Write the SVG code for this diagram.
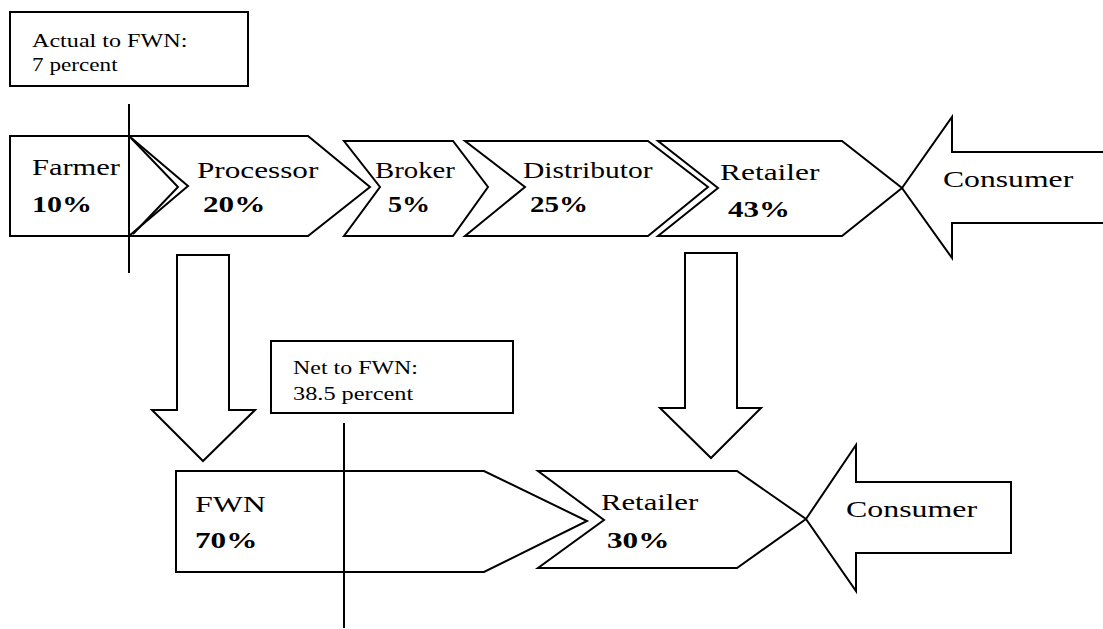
<svg xmlns="http://www.w3.org/2000/svg" width="1103" height="629" viewBox="0 0 1103 629">
<style>
.s{fill:#fff;stroke:#000;stroke-width:2;stroke-linejoin:miter}
.l{fill:none;stroke:#000;stroke-width:2}
.t{font-family:"Liberation Serif","Times New Roman",serif;font-size:24px;fill:#000}
.b{font-weight:bold}
.n{font-family:"Liberation Serif","Times New Roman",serif;font-size:19px;fill:#000}
</style>
<rect width="1103" height="629" fill="#fff"/>
<g id="note-actual">
<rect class="s" x="10" y="12" width="238" height="74"/>
<text class="n" transform="translate(32,47) scale(1.27,1)">Actual to FWN:</text>
<text class="n" transform="translate(32,71) scale(1.22,1)">7 percent</text>
</g>
<g id="consumer-top">
<polygon class="s" points="902,188 952,117 952,152 1110,152 1110,223 952,223 952,258"/>
<text class="t" transform="translate(943,187) scale(1.32,1)">Consumer</text>
</g>
<g id="farmer">
<rect class="s" x="10" y="136" width="119" height="100"/>
<text class="t" transform="translate(32,175) scale(1.27,1)">Farmer</text>
<text class="t b" transform="translate(32,212) scale(1.25,1)">10%</text>
</g>
<g id="processor">
<polygon class="s" points="129,136 308,136 370,187 308,236 129,236 188,186"/>
<polyline class="l" points="131,138 178,187 133,234"/>
<text class="t" transform="translate(197,178) scale(1.3,1)">Processor</text>
<text class="t b" transform="translate(203,212) scale(1.3,1)">20%</text>
</g>
<g id="broker">
<polygon class="s" points="344,141 453,141 488,187 453,236 344,236 380,187"/>
<text class="t" transform="translate(375,178) scale(1.2,1)">Broker</text>
<text class="t b" transform="translate(388,212) scale(1.17,1)">5%</text>
</g>
<g id="distributor">
<polygon class="s" points="465,141 648,141 708,187 648,236 465,236 525,187"/>
<text class="t" transform="translate(523,178) scale(1.23,1)">Distributor</text>
<text class="t b" transform="translate(530,212) scale(1.21,1)">25%</text>
</g>
<g id="retailer-top">
<polygon class="s" points="658,141 842,141 902,188 842,236 658,236 718,188"/>
<text class="t" transform="translate(720,180) scale(1.31,1)">Retailer</text>
<text class="t b" transform="translate(728,217) scale(1.29,1)">43%</text>
</g>
<g id="connectors">
<line class="l" x1="129" y1="104" x2="129" y2="273"/>
<polygon class="s" points="177,255 229,255 229,410 255,410 203,461 152,410 177,410"/>
<polygon class="s" points="685,253 737,253 737,408 761,408 711,458 660,408 685,408"/>
</g>
<g id="note-net">
<rect class="s" x="271" y="341" width="242" height="72"/>
<text class="n" transform="translate(293,374) scale(1.26,1)">Net to FWN:</text>
<text class="n" transform="translate(293,400) scale(1.28,1)">38.5 percent</text>
</g>
<g id="fwn">
<polygon class="s" points="176,471 484,471 587,521 484,572 176,572"/>
<text class="t" transform="translate(195,512) scale(1.33,1)">FWN</text>
<text class="t b" transform="translate(195,548) scale(1.3,1)">70%</text>
</g>
<g id="retailer-bottom">
<polygon class="s" points="538,471 737,471 806,519 737,568 538,568 604,520"/>
<text class="t" transform="translate(601,510) scale(1.28,1)">Retailer</text>
<text class="t b" transform="translate(607,548) scale(1.3,1)">30%</text>
</g>
<g id="consumer-bottom">
<polygon class="s" points="806,519 856,445 856,482 1011,482 1011,553 856,553 856,591"/>
<text class="t" transform="translate(846,517) scale(1.33,1)">Consumer</text>
</g>
<g id="divider">
<line class="l" x1="344" y1="423" x2="344" y2="628"/>
</g>
</svg>
